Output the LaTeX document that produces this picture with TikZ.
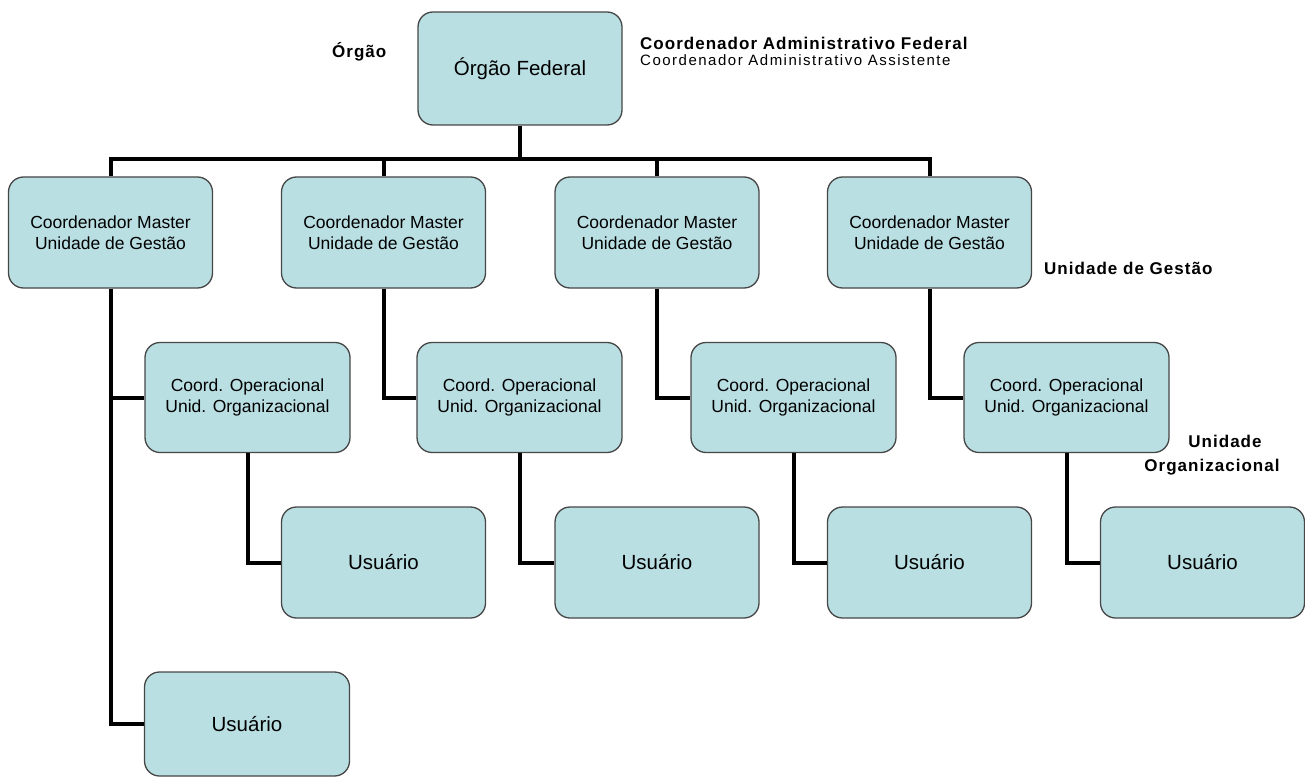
\documentclass[tikz,border=0pt]{standalone}
\usepackage{fontspec}
\setmainfont{Liberation Sans}
\newfontfamily\labelfont[LetterSpace=6]{Liberation Sans}
\newfontfamily\notefont[LetterSpace=10]{Liberation Sans}
\definecolor{boxfill}{RGB}{185,223,227}
\definecolor{boxline}{RGB}{70,70,70}
\tikzset{
  unit/.style={draw=boxline, line width=1.3pt, fill=boxfill, rounded corners=15pt,
    minimum width=204pt, minimum height=111pt, inner sep=0pt, align=center,
    font=\fontsize{17.5}{20.5}\selectfont},
  bigunit/.style={unit, font=\fontsize{20.5}{24}\selectfont},
  conn/.style={line width=4pt},
  tag/.style={anchor=base west, inner sep=0pt, font=\labelfont\fontsize{17}{20}\bfseries\selectfont},
}
\begin{document}
\begin{tikzpicture}[x=1pt, y=-1pt]
\useasboundingbox (0,0) rectangle (1305,778);
% orgao
\node[bigunit, minimum height=113pt] (orgao) at (520,68.5) {Órgão Federal};
% coordenadores master
\node[unit] (mestre1) at (110.5,232.5) {Coordenador Master\\Unidade de Gestão};
\node[unit] (mestre2) at (383.5,232.5) {Coordenador Master\\Unidade de Gestão};
\node[unit] (mestre3) at (657,232.5) {Coordenador Master\\Unidade de Gestão};
\node[unit] (mestre4) at (929.5,232.5) {Coordenador Master\\Unidade de Gestão};
% coord. operacionais
\node[unit, minimum width=205pt, minimum height=110pt] (oper1) at (247.5,397.5) {Coord. Operacional\\Unid. Organizacional};
\node[unit, minimum width=205pt, minimum height=110pt] (oper2) at (519.5,397.5) {Coord. Operacional\\Unid. Organizacional};
\node[unit, minimum width=205pt, minimum height=110pt] (oper3) at (793.5,397.5) {Coord. Operacional\\Unid. Organizacional};
\node[unit, minimum width=205pt, minimum height=110pt] (oper4) at (1066.5,397.5) {Coord. Operacional\\Unid. Organizacional};
% usuarios
\node[bigunit] (user1) at (383.5,562.5) {Usuário};
\node[bigunit] (user2) at (657,562.5) {Usuário};
\node[bigunit] (user3) at (929.5,562.5) {Usuário};
\node[bigunit] (user4) at (1202.5,562.5) {Usuário};
\node[bigunit, minimum width=205pt, minimum height=104pt] (user0) at (247,724) {Usuário};
% rotulos
\node[tag] (lorgao) at (332,58) {Órgão};
\node[tag] (lfed) at (640,50) {Coordenador Administrativo Federal};
\node[anchor=base west, inner sep=0pt, font=\notefont\fontsize{15}{18}\selectfont] (lassist) at (640,66) {Coordenador Administrativo Assistente};
\node[tag] (lgestao) at (1044,274) {Unidade de Gestão};
\node[tag, anchor=base] (lunid) at (1225,447) {Unidade};
\node[tag, anchor=base] (lorg) at (1212,471) {Organizacional};
% ligacoes
\coordinate (junc) at (520,159);
\draw[conn] (orgao.south) -- (junc);
\draw[conn] (mestre1.north) |- (junc) -| (mestre4.north);
\draw[conn] (mestre2.north) -- (mestre2.north |- junc);
\draw[conn] (mestre3.north) -- (mestre3.north |- junc);
\draw[conn] (mestre1.south) |- (oper1.west);
\draw[conn] (mestre1.south) |- (user0.west);
\draw[conn] (mestre2.south) |- (oper2.west);
\draw[conn] (mestre3.south) |- (oper3.west);
\draw[conn] (mestre4.south) |- (oper4.west);
\draw[conn] (oper1.south) |- (user1.west);
\draw[conn] (oper2.south) |- (user2.west);
\draw[conn] (oper3.south) |- (user3.west);
\draw[conn] (oper4.south) |- (user4.west);
\end{tikzpicture}
\end{document}
